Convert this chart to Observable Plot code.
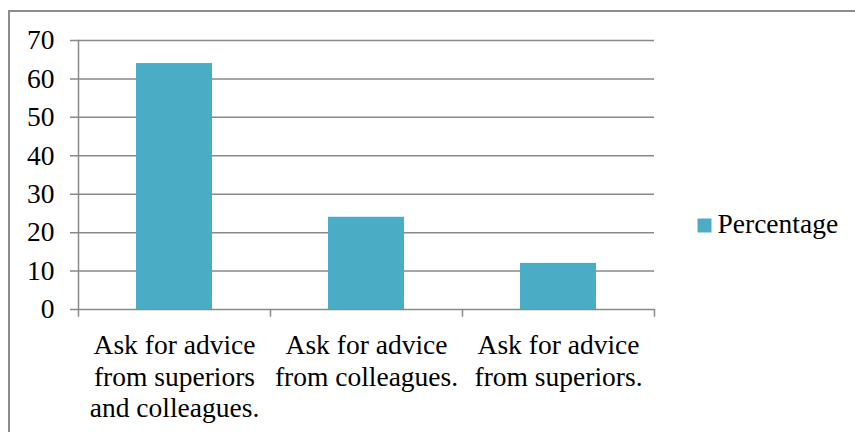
<!DOCTYPE html>
<html>
<head>
<meta charset="utf-8">
<script src="https://cdn.jsdelivr.net/npm/d3@7"></script>
<script src="https://cdn.jsdelivr.net/npm/@observablehq/plot@0.6"></script>
<style>
  html, body { margin: 0; padding: 0; background: #fff; overflow: hidden; width: 855px; height: 432px; }
  #frame { position: absolute; left: 8px; top: 10px; width: 900px; height: 500px; border: 2px solid #8c8c8c; box-sizing: border-box; }
  #chart { position: absolute; left: 0; top: 0; }
  #chart svg, #chart svg text { font-family: 'Liberation Serif', 'Times New Roman', serif !important; }
</style>
</head>
<body>
<div id="frame"></div>
<div id="chart"></div>
<script>
const categories = [
  "Ask for advice\nfrom superiors\nand colleagues.",
  "Ask for advice\nfrom colleagues.",
  "Ask for advice\nfrom superiors."
];
const percentages = [64, 24, 12];
const yTicks = [0, 10, 20, 30, 40, 50, 60, 70];
const seriesName = "Percentage";

const data = categories.map((c, i) => ({category: c, value: percentages[i]}));
const barColor = "#4bacc6";
const gridColor = "#898989";
const serif = "'Liberation Serif', 'Times New Roman', serif";

const chart = Plot.plot({
  width: 855,
  height: 432,
  marginLeft: 78,
  marginRight: 201,
  marginTop: 40,
  marginBottom: 123,
  style: "font-family: 'Liberation Serif', 'Times New Roman', serif; font-size: 27.5px; color: #000; background: transparent;",
  x: {domain: categories, padding: 0, label: null},
  y: {domain: [0, 70], label: null},
  marks: [
    Plot.ruleY(yTicks, {y: d => d, stroke: gridColor, strokeWidth: 1.5, insetLeft: -8}),
    Plot.barY(data, {x: "category", y: "value", fill: barColor, insetLeft: 58, insetRight: 58}),
    Plot.frame({anchor: "left", stroke: gridColor, strokeWidth: 1.5}),
    Plot.ruleX(categories, {x: d => d, dx: -96, y1: 0, y2: -2.0, stroke: gridColor, strokeWidth: 1.5}),
    Plot.ruleX(categories.slice(-1), {x: d => d, dx: 96, y1: 0, y2: -2.0, stroke: gridColor, strokeWidth: 1.5}),
    Plot.axisY(yTicks, {tickSize: 0, tickPadding: 24, fontSize: 27.5, fontFamily: serif, fill: "#000", label: null}),
    Plot.axisX({tickSize: 0, tickPadding: 22, lineHeight: 1.15, fontSize: 27.5, fontFamily: serif, fill: "#000", textAnchor: "middle", label: null}),
    Plot.dot([seriesName], {frameAnchor: "right", dx: 50, dy: 50.5, symbol: "square", r: 7.9, fill: barColor, stroke: null}),
    Plot.text([seriesName], {text: d => d, frameAnchor: "right", dx: 63, dy: 49.5, textAnchor: "start", fontSize: 27.5, fontFamily: serif, fill: "#000"})
  ]
});
document.getElementById("chart").appendChild(chart);
</script>
</body>
</html>
